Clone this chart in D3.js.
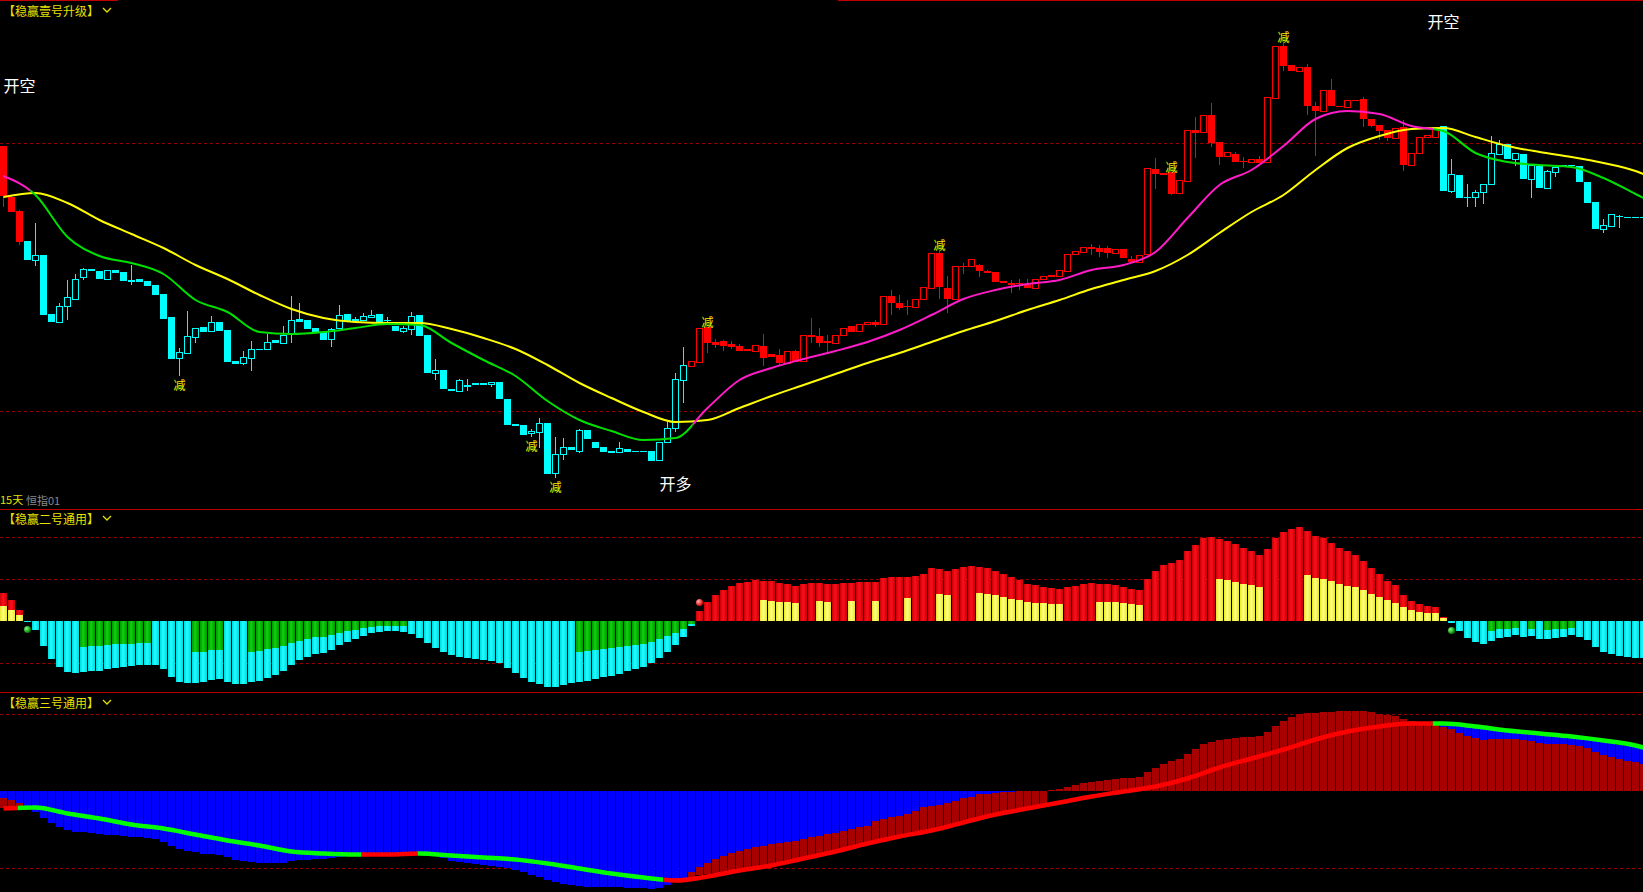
<!DOCTYPE html>
<html lang="zh">
<head>
<meta charset="utf-8">
<title>稳赢</title>
<script src="https://cdn.jsdelivr.net/npm/d3@7/dist/d3.min.js"></script>
<style>
html,body{margin:0;padding:0;background:#000;overflow:hidden;}
svg{display:block;}
</style>
</head>
<body>
<svg id="chart" width="1643" height="892"></svg>
<script>
// ---------------- DATA ----------------
// Panel 1 : candles (price units)
const candleOpen = [
854,803,789,759,740,745,686,678,694,701,
723,731,729,721,730,728,720,721,719,715,
706,683,642,647,663,673,669,678,670,639,
637,642,651,651,660,657,666,681,680,672,
668,661,672,686,681,680,683,686,680,674,
669,671,685,665,627,630,611,609,615,617,
617,616,618,601,576,575,567,568,577,527,
546,553,549,570,558,553,549,548,551,549,
549,549,540,558,572,620,634,638,673,658,
659,656,654,651,649,654,646,645,637,649,
639,665,664,659,657,665,674,669,676,678,
676,704,697,694,693,701,712,747,712,701,
734,734,735,729,728,719,717,717,715,712,
721,725,724,729,746,748,753,752,752,747,
751,741,738,746,831,827,828,807,819,870,
868,885,858,844,846,839,838,841,838,902,
954,935,929,933,894,889,910,894,893,900,
901,881,875,870,862,873,835,847,863,863,
874,809,825,803,803,808,816,846,856,841,
846,821,834,812,828,835,835,834,818,798,
771,774,784,783,783,783];
const candleHigh = [
854,805,790,759,777,745,686,697,720,726,
732,731,729,730,730,728,735,721,719,715,
706,683,652,689,672,673,684,678,670,639,
649,659,651,666,660,674,704,697,680,672,
668,672,695,686,683,687,690,686,683,674,
674,688,685,665,641,630,611,621,621,617,
617,618,618,601,576,575,571,582,577,563,
562,553,571,570,558,553,549,558,551,549,
549,549,558,578,627,653,639,672,673,661,
660,659,656,651,655,666,646,651,649,650,
665,682,672,665,665,672,674,676,678,680,
704,710,705,700,701,713,747,750,724,734,
737,741,736,730,728,719,720,721,721,721,
724,725,730,746,749,753,756,755,754,751,
751,744,745,832,842,827,828,820,870,883,
885,897,858,848,848,843,841,844,903,954,
958,935,933,936,898,910,921,894,900,900,
903,881,875,870,872,880,847,863,865,873,
874,841,825,816,810,816,864,860,856,847,
846,835,834,830,833,835,835,834,818,798,
781,786,785,783,783,783];
const candleLow = [
793,788,755,740,734,685,678,677,680,701,
720,729,721,721,727,719,715,718,714,705,
681,641,624,646,657,668,669,669,638,636,
635,629,650,651,657,657,657,678,671,668,
660,653,672,678,677,680,683,677,677,669,
667,665,664,627,620,611,609,609,609,615,
615,613,601,575,574,565,563,552,526,522,
540,550,547,561,552,548,547,548,548,548,
548,539,540,558,568,597,634,638,647,652,
649,651,649,649,649,634,643,634,637,638,
639,657,653,648,657,665,668,669,676,673,
676,685,690,685,693,701,712,701,687,701,
726,734,723,727,718,717,707,710,712,712,
721,723,724,729,746,748,745,743,742,747,
742,737,738,746,811,825,805,807,819,842,
868,853,835,844,838,832,838,837,838,902,
929,929,929,885,844,889,894,893,893,899,
873,873,860,859,862,829,835,847,863,863,
809,807,802,793,793,796,816,846,841,834,
821,802,812,811,823,833,834,818,797,771,
767,774,772,782,782,782];
const candleClose = [
804,788,758,740,745,685,678,694,703,721,
731,729,721,730,727,719,718,718,714,705,
681,641,648,664,672,668,678,669,638,636,
643,651,650,658,657,665,680,678,671,668,
660,671,685,678,679,684,685,677,679,669,
672,684,664,627,630,611,609,620,613,615,
615,618,601,575,574,565,569,577,526,546,
553,550,570,561,552,548,547,552,548,548,
548,539,558,572,621,635,639,672,657,655,
654,653,649,649,655,642,643,637,649,638,
665,663,657,657,665,672,668,676,678,675,
704,697,692,693,701,713,747,713,701,734,
733,741,729,727,718,717,715,716,712,721,
724,723,730,746,749,753,751,748,747,751,
742,738,745,832,826,825,806,820,870,867,
885,857,843,848,838,838,841,837,903,954,
934,929,933,894,889,910,894,893,900,899,
881,874,869,862,872,835,847,863,865,873,
809,826,802,802,808,816,847,856,841,847,
821,835,812,829,833,833,834,818,797,771,
775,786,783,782,782,782];
// trend phases of the candles: [first bar index, kind]
const candleTrend = [[0,'bull'],[3,'bear'],[86,'bull'],[180,'bear']];

// moving averages, one value every MA_STEP bars (last value = last bar)
const MA_STEP = 4;
const maSlow = [803,807,797,780,766,752,735,721,705,691,682,678,677,677,671,662,651,635,617,602,588,578,580,592,604,615,626,637,647,658,669,679,690,700,711,720,729,745,767,788,805,830,852,864,871,872,863,854,848,843,837,829,826];
const maFast = [824,805,763,744,737,726,700,688,668,666,668,672,676,675,657,640,624,599,580,569,560,562,592,620,632,641,649,658,670,685,701,710,716,720,730,735,748,782,815,830,854,881,889,886,874,869,847,838,835,833,822,806,802];
const maFastTrend = [[0,'up'],[3.8,'down'],[86.6,'up'],[179.2,'down']];

const priceGrid = [857, 589];
// signal labels
const reduceMarks = [[22,'below'],[66,'below'],[69,'below'],[88,'above'],[117,'above'],[146,'above'],[160,'above']];
const tradeMarks = [[2,'开空',915],[84,'开多',517],[180,'开空',979]];

// Panel 2
const osc2Main = [
28,21,11,-1,-9,-25,-38,-46,-51,-52,
-51,-50,-50,-48,-47,-46,-45,-44,-44,-44,
-48,-56,-61,-62,-62,-61,-59,-58,-61,-63,
-63,-61,-60,-57,-54,-50,-44,-39,-36,-33,
-32,-29,-24,-21,-18,-15,-12,-11,-10,-10,
-11,-13,-17,-22,-27,-31,-34,-36,-37,-38,
-39,-40,-42,-47,-52,-57,-61,-63,-66,-66,
-64,-62,-61,-60,-58,-56,-55,-53,-50,-48,
-46,-42,-37,-31,-24,-16,-5,10,19,26,
31,35,38,39,41,40,40,38,37,35,
37,38,38,37,37,38,38,39,39,39,
43,44,44,44,45,47,53,52,50,52,
54,55,54,53,50,47,44,41,37,36,
34,33,32,34,35,37,38,37,37,36,
34,32,31,42,50,56,58,61,70,76,
83,84,82,80,77,73,70,66,72,83,
89,92,94,90,85,83,78,73,70,66,
60,53,47,40,36,26,20,17,15,14,
4,-2,-10,-17,-21,-23,-20,-17,-16,-14,
-16,-15,-18,-18,-17,-16,-14,-16,-19,-26,
-31,-33,-35,-36,-37,-37];
const osc2Part = [
15,11,6,0,0,0,0,0,0,0,
-26,-25,-25,-24,-23,-23,-23,-22,-22,0,
0,0,0,0,-31,-31,-29,-29,0,0,
0,-31,-30,-28,-27,-25,-22,-20,-18,-16,
-16,-14,-12,-10,-9,-7,-6,-5,-5,-5,
-5,0,0,0,0,0,0,0,0,0,
0,0,0,0,0,0,0,0,0,0,
0,0,-31,-30,-29,-28,-27,-26,-25,-24,
-23,-21,-18,-15,-12,-8,-3,0,0,0,
0,0,0,0,0,21,20,19,19,18,
0,0,20,19,0,0,20,0,0,20,
0,0,0,23,0,0,0,27,26,0,
0,0,28,27,26,24,22,21,19,18,
18,17,17,0,0,0,0,19,19,19,
18,17,16,0,0,0,0,0,0,0,
0,0,42,41,39,37,36,34,0,0,
0,0,0,46,43,42,40,37,35,34,
31,27,24,21,18,14,11,9,8,8,
3,0,0,0,0,0,-10,-8,-8,-7,
0,-8,0,-9,-8,-8,-7,0,0,0,
0,0,0,0,0,0];
const osc2Dots = [[3,-8,'bear'],[87,19,'bull'],[181,-9,'bear']];
const osc2Grid = [84, 42, -42];

// Panel 3
const osc3Blue = [
-7,-9,-12,-17,-21,-27,-32,-36,-39,-41,
-41,-42,-43,-44,-44,-45,-46,-46,-47,-48,
-51,-55,-58,-60,-61,-63,-63,-64,-66,-69,
-70,-71,-72,-72,-72,-72,-70,-69,-69,-68,
-68,-67,-66,-65,-64,-63,-62,-62,-62,-62,
-62,-62,-62,-63,-64,-67,-70,-71,-72,-73,
-74,-75,-76,-77,-79,-81,-84,-86,-89,-91,
-93,-94,-95,-96,-96,-96,-96,-96,-97,-97,
-97,-98,-97,-94,-89,-87,-81,-76,-72,-68,
-65,-62,-60,-58,-56,-55,-53,-52,-51,-50,
-48,-46,-45,-43,-42,-40,-38,-36,-35,-30,
-28,-26,-25,-23,-20,-16,-15,-14,-12,-10,
-7,-6,-3,-3,-2,-1,-1,0,0,0,
0,0,0,0,0,0,0,0,0,0,
0,0,0,0,0,0,0,0,0,0,
0,0,0,0,0,0,0,0,0,0,
0,0,0,0,0,0,0,0,0,0,
0,0,0,0,0,0,0,0,0,0,
66,66,65,64,63,62,61,60,60,59,
59,57,56,55,54,54,53,52,51,50,
49,48,46,45,44,42];
const osc3Red = [
-17,-15,-15,0,0,0,0,0,0,0,
0,0,0,0,0,0,0,0,0,0,
0,0,0,0,0,0,0,0,0,0,
0,0,0,0,0,0,0,0,0,0,
0,0,0,0,0,0,0,0,0,0,
0,0,0,0,0,0,0,0,0,0,
0,0,0,0,0,0,0,0,0,0,
0,0,0,0,0,0,0,0,0,0,
0,0,0,0,0,0,-87,-84,-83,-82,
-82,-81,-80,-79,-77,-76,-74,-72,-71,-69,
-67,-66,-64,-62,-61,-59,-57,-56,-54,-52,
-51,-48,-46,-45,-43,-41,-38,-37,-35,-32,
-30,-28,-26,-24,-22,-21,-19,-18,-17,-16,
-15,1,2,4,6,8,9,10,11,12,
13,13,14,19,23,27,30,32,37,42,
47,49,51,52,53,54,54,55,59,65,
70,74,77,78,78,79,79,80,80,80,
80,79,77,76,75,72,70,69,68,66,
64,62,58,55,53,51,52,52,52,52,
51,50,48,47,47,47,46,45,43,39,
36,34,32,30,29,27];
const osc3Line = [-17,-16,-22,-27,-33,-37,-43,-49,-54,-60,-62,-63,-63,-62,-64,-66,-68,-72,-77,-82,-86,-89,-85,-79,-74,-67,-60,-52,-45,-39,-31,-23,-17,-11,-5,0,5,13,24,33,42,52,60,65,68,68,65,61,58,55,51,46,44];
const osc3LineTrend = [[0,'up'],[2.2,'down'],[45.2,'up'],[52.2,'down'],[82.9,'up'],[179.1,'down']];
const osc3Grid = [77, -77];

const titles = ['【稳赢壹号升级】','【稳赢二号通用】','【稳赢三号通用】'];

// ---------------- CHART ----------------
const W = 1643, H = 892;
const N = candleOpen.length;
const svg = d3.select('#chart');
svg.append('rect').attr('width', W).attr('height', H).attr('fill', '#000');
const defs = svg.append('defs');

const x = d3.scaleBand().domain(d3.range(N)).range([0, 8 * N - 1]).paddingInner(0.125).paddingOuter(0);
const bw = x.bandwidth();
const step = x.step();
const cx = i => x(i) + Math.floor(bw / 2) + 0.5;

const yP = d3.scaleLinear().domain([500, 1000]).range([500, 0]);
const y2 = d3.scaleLinear().domain([0, 42]).range([621.5, 579.5]);
const y3 = d3.scaleLinear().domain([0, 77]).range([791.5, 714.5]);

const trendAt = (list, i) => { let k = list[0][1]; list.forEach(d => { if (i >= d[0]) k = d[1]; }); return k; };

// gradients
function hGrad(id, edge, mid) {
  const g = defs.append('linearGradient').attr('id', id).attr('x1', 0).attr('x2', 1).attr('y1', 0).attr('y2', 0);
  g.append('stop').attr('offset', '0%').attr('stop-color', edge);
  g.append('stop').attr('offset', '45%').attr('stop-color', mid);
  g.append('stop').attr('offset', '100%').attr('stop-color', edge);
}
hGrad('gRed', '#C80008', '#FF1018');
hGrad('gYel', '#E8E830', '#FFFF80');
hGrad('gCyan', '#00D8E0', '#20FFFF');
hGrad('gGreen', '#009A00', '#10D010');
function rGrad(id, hi, base) {
  const g = defs.append('radialGradient').attr('id', id).attr('cx', '35%').attr('cy', '35%').attr('r', '65%');
  g.append('stop').attr('offset', '0%').attr('stop-color', hi);
  g.append('stop').attr('offset', '100%').attr('stop-color', base);
}
rGrad('dotBull', '#FFB0B0', '#E00000');
rGrad('dotBear', '#80FF80', '#007A00');

// phase clip paths
function makeClips(prefix, list, top, bottom) {
  return list.map((d, k) => {
    const x0 = d[0] * step, x1 = k + 1 < list.length ? list[k + 1][0] * step : W + 10;
    const id = prefix + k;
    defs.append('clipPath').attr('id', id).append('rect')
      .attr('x', x0).attr('y', top).attr('width', x1 - x0).attr('height', bottom - top);
    return {id, kind: d[1]};
  });
}

// ---------- frame ----------
const frame = svg.append('g');
frame.append('line').attr('x1', 0).attr('x2', 118).attr('y1', 0.5).attr('y2', 0.5).attr('stroke', '#C00000');
frame.append('line').attr('x1', 838).attr('x2', W).attr('y1', 0.5).attr('y2', 0.5).attr('stroke', '#C00000');
[509, 692].forEach(yy => frame.append('line').attr('x1', 0).attr('x2', W).attr('y1', yy + 0.5).attr('y2', yy + 0.5).attr('stroke', '#B40000'));

function grid(levels, scale) {
  levels.forEach(v => {
    const yy = Math.floor(scale(v)) + 0.5;
    frame.append('line').attr('x1', 0).attr('x2', W).attr('y1', yy).attr('y2', yy)
      .attr('stroke', '#960000').attr('stroke-dasharray', '3,3');
  });
}
grid(priceGrid, yP); grid(osc2Grid, y2); grid(osc3Grid, y3);

// ---------- panel 1 : candles ----------
const gC = svg.append('g');
d3.range(N).forEach(i => {
  const o = candleOpen[i], h = candleHigh[i], l = candleLow[i], c = candleClose[i];
  const col = trendAt(candleTrend, i) === 'bull' ? '#FF0000' : '#00FFFF';
  const xc = cx(i);
  const yT = Math.round(yP(Math.max(o, c))), yB = Math.round(yP(Math.min(o, c)));
  const yH = Math.round(yP(h)), yL = Math.round(yP(l));
  if (c > o) {
    if (yH < yT) gC.append('line').attr('x1', xc).attr('x2', xc).attr('y1', yH).attr('y2', yT).attr('stroke', col);
    if (yL > yB) gC.append('line').attr('x1', xc).attr('x2', xc).attr('y1', yB).attr('y2', yL).attr('stroke', col);
    gC.append('rect').attr('x', x(i) + 0.5).attr('y', yT + 0.5).attr('width', bw - 1).attr('height', Math.max(yB - yT, 1))
      .attr('fill', '#000').attr('stroke', col);
  } else {
    if (yL > yH) gC.append('line').attr('x1', xc).attr('x2', xc).attr('y1', yH).attr('y2', yL).attr('stroke', col);
    gC.append('rect').attr('x', x(i)).attr('y', yT).attr('width', bw).attr('height', Math.max(yB - yT, 1)).attr('fill', col);
  }
});

// moving averages
const maIdx = d3.range(0, N, MA_STEP).concat([N - 1]);
const maLine = d3.line().x(d => cx(d[0])).y(d => yP(d[1])).curve(d3.curveMonotoneX);
svg.append('path').attr('d', maLine(maIdx.map((i, k) => [i, maSlow[k]])))
  .attr('fill', 'none').attr('stroke', '#FFFF00').attr('stroke-width', 2);
const fastClips = makeClips('cf', maFastTrend, 0, 508);
const fastD = maLine(maIdx.map((i, k) => [i, maFast[k]]));
fastClips.forEach(cl => svg.append('path').attr('d', fastD).attr('clip-path', `url(#${cl.id})`)
  .attr('fill', 'none').attr('stroke', cl.kind === 'up' ? '#FF1CC8' : '#00E000').attr('stroke-width', 2));

// labels
const font = '"Noto Sans CJK SC","Noto Sans",sans-serif';
reduceMarks.forEach(([i, side]) => {
  const yy = side === 'below' ? yP(candleLow[i]) + 8 : yP(candleHigh[i]) - 6;
  svg.append('text').attr('x', cx(i)).attr('y', yy).attr('text-anchor', 'middle').attr('dominant-baseline', 'central')
    .attr('font-family', font).attr('font-size', 12).attr('fill', '#F5F000').text('减');
});
tradeMarks.forEach(([i, t, p]) => {
  svg.append('text').attr('x', cx(i)).attr('y', yP(p)).attr('text-anchor', 'middle').attr('dominant-baseline', 'central')
    .attr('font-family', font).attr('font-size', 16).attr('fill', '#FFFFFF').text(t);
});

// ---------- panel 2 ----------
const g2 = svg.append('g');
const z2 = Math.floor(y2(0));
d3.range(N).forEach(i => {
  const m = osc2Main[i], p = osc2Part[i];
  const bar = (v, fill) => {
    const yv = Math.floor(y2(v));
    const top = Math.min(yv, z2), hgt = Math.max(Math.abs(yv - z2), 1);
    g2.append('rect').attr('x', x(i)).attr('y', top).attr('width', bw).attr('height', hgt).attr('fill', fill);
  };
  if (m > 0) { bar(m, 'url(#gRed)'); if (p > 0) bar(p, 'url(#gYel)'); }
  else if (m < 0) { bar(m, 'url(#gCyan)'); if (p < 0) bar(p, 'url(#gGreen)'); }
});
osc2Dots.forEach(([i, v, k]) => g2.append('circle').attr('cx', cx(i)).attr('cy', y2(v)).attr('r', 3.5)
  .attr('fill', k === 'bull' ? 'url(#dotBull)' : 'url(#dotBear)'));

// ---------- panel 3 ----------
const g3 = svg.append('g');
const z3 = Math.floor(y3(0));
d3.range(N).forEach(i => {
  const b = osc3Blue[i], r = osc3Red[i];
  const items = [];
  if (b !== 0) items.push([b, '#0000FF']);
  if (r !== 0) items.push([r, '#A80000']);
  items.sort((a, c) => Math.abs(c[0]) - Math.abs(a[0]));
  items.forEach(([v, fill]) => {
    const yv = Math.floor(y3(v));
    const top = Math.min(yv, z3), hgt = Math.max(Math.abs(yv - z3), 1);
    g3.append('rect').attr('x', x(i)).attr('y', top).attr('width', bw).attr('height', hgt).attr('fill', fill);
  });
});
const l3 = d3.line().x(d => cx(d[0])).y(d => y3(d[1])).curve(d3.curveMonotoneX);
const l3d = l3(maIdx.map((i, k) => [i, osc3Line[k]]));
makeClips('c3', osc3LineTrend, 693, 892).forEach(cl => g3.append('path').attr('d', l3d).attr('clip-path', `url(#${cl.id})`)
  .attr('fill', 'none').attr('stroke', cl.kind === 'up' ? '#FF0000' : '#00FF00').attr('stroke-width', 4.5));

// ---------- titles ----------
const titleY = [10, 518, 702];
titles.forEach((t, k) => {
  svg.append('text').attr('x', 3).attr('y', titleY[k]).attr('dominant-baseline', 'central')
    .attr('font-family', font).attr('font-size', 12).attr('fill', '#E8E000').text(t);
  svg.append('path').attr('d', `M103,${titleY[k] - 2} L107,${titleY[k] + 2} L111,${titleY[k] - 2}`)
    .attr('fill', 'none').attr('stroke', '#E8E000').attr('stroke-width', 1.3);
});
svg.append('text').attr('x', 0).attr('y', 499).attr('dominant-baseline', 'central')
  .attr('font-family', font).attr('font-size', 11).attr('fill', '#E0E000').text('15天');
svg.append('text').attr('x', 26).attr('y', 500).attr('dominant-baseline', 'central')
  .attr('font-family', font).attr('font-size', 11).attr('fill', '#8A8A8A').text('恒指01');
</script>
</body>
</html>
